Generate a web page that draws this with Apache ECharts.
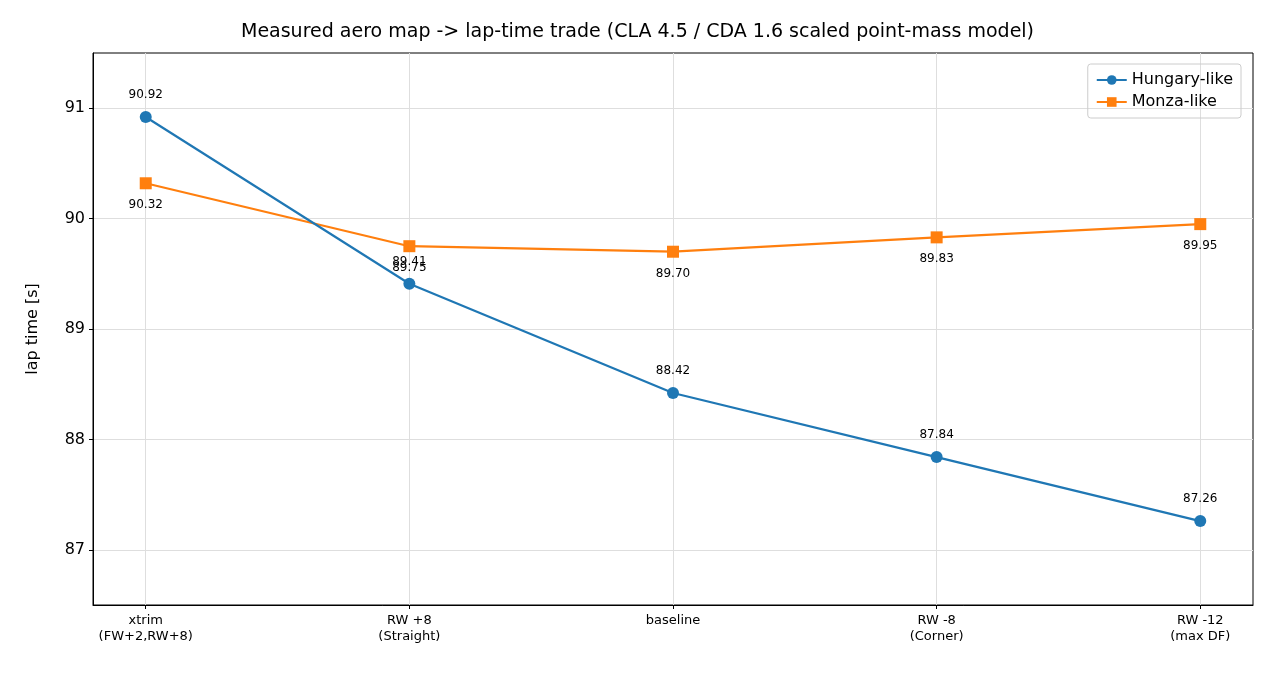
<!DOCTYPE html>
<html>
<head>
<meta charset="utf-8">
<script src="https://cdn.jsdelivr.net/npm/echarts@6/dist/echarts.min.js"></script>
<style>html,body{margin:0;background:#fff}#chart{width:1275px;height:675px}</style>
</head>
<body>
<div id="chart"></div>
<script>
// Data
var categories = ['xtrim\n(FW+2,RW+8)', 'RW +8\n(Straight)', 'baseline', 'RW -8\n(Corner)', 'RW -12\n(max DF)'];
var hungary = [90.92, 89.41, 88.42, 87.84, 87.26];
var monza = [90.32, 89.75, 89.70, 89.83, 89.95];
var yTicks = [87, 88, 89, 90, 91];
var xTicks = [0, 1, 2, 3, 4];

var toPairs = function(arr) {
    return arr.map(function(v, i) { return [i, v]; });
};

var gridLines = yTicks.map(function(v) { return { yAxis: v }; })
    .concat(xTicks.map(function(v) { return { xAxis: v }; }));

var chart = echarts.init(document.getElementById('chart'));

var option = {
    animation: false,
    textStyle: { fontFamily: 'DejaVu Sans' },
    title: {
        text: 'Measured aero map -> lap-time trade (CLA 4.5 / CDA 1.6 scaled point-mass model)',
        left: 'center',
        top: 18,
        textStyle: { fontSize: 19, fontWeight: 'normal', color: '#000' }
    },
    legend: {
        right: 34,
        top: 64,
        orient: 'vertical',
        borderColor: '#ccc',
        borderWidth: 1,
        borderRadius: 3,
        padding: [8, 8],
        itemGap: 6,
        itemWidth: 30,
        itemHeight: 12,
        textStyle: { fontSize: 16, color: '#000' },
        data: ['Hungary-like', 'Monza-like']
    },
    grid: { left: 93, right: 22, top: 53, bottom: 70, show: true, borderColor: '#000', borderWidth: 1 },
    xAxis: {
        type: 'value',
        min: -0.2,
        max: 4.2,
        axisLine: { show: true, onZero: false, lineStyle: { color: '#000' } },
        axisTick: { show: true, customValues: xTicks, length: 4, lineStyle: { color: '#000' } },
        axisLabel: {
            customValues: xTicks,
            fontSize: 13,
            color: '#000',
            lineHeight: 16,
            formatter: function(v) { return categories[Math.round(v)]; }
        },
        splitLine: { show: false }
    },
    yAxis: {
        type: 'value',
        min: 86.5,
        max: 91.5,
        name: 'lap time [s]',
        nameLocation: 'middle',
        nameGap: 52,
        nameTextStyle: { fontSize: 16, color: '#000' },
        axisLine: { show: true, onZero: false, lineStyle: { color: '#000' } },
        axisTick: { show: true, customValues: yTicks, length: 4, lineStyle: { color: '#000' } },
        axisLabel: { customValues: yTicks, fontSize: 16, color: '#000' },
        splitLine: { show: false }
    },
    series: [{
        name: 'Hungary-like',
        type: 'line',
        data: toPairs(hungary),
        symbol: 'circle',
        symbolSize: 12,
        color: '#1f77b4',
        lineStyle: { width: 2.2 },
        z: 3,
        label: {
            show: true,
            position: 'top',
            distance: 10,
            fontSize: 12,
            color: '#000',
            formatter: function(p) { return p.value[1].toFixed(2); }
        },
        markLine: {
            silent: true,
            symbol: 'none',
            label: { show: false },
            lineStyle: { color: '#dedede', type: 'solid', width: 1 },
            data: gridLines,
            z: 0
        }
    }, {
        name: 'Monza-like',
        type: 'line',
        data: toPairs(monza),
        symbol: 'rect',
        symbolSize: 12,
        color: '#ff7f0e',
        lineStyle: { width: 2.2 },
        z: 2,
        label: {
            show: true,
            position: 'bottom',
            distance: 10,
            fontSize: 12,
            color: '#000',
            formatter: function(p) { return p.value[1].toFixed(2); }
        }
    }]
};

chart.setOption(option);
</script>
</body>
</html>
